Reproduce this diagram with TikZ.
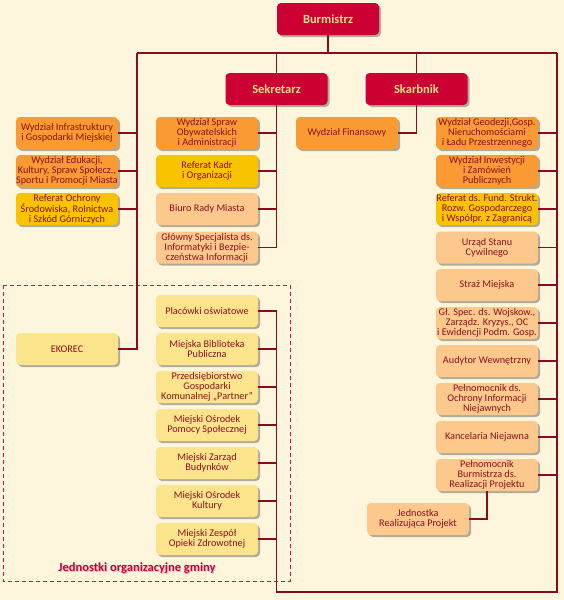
\documentclass[tikz,border=0pt]{standalone}
\usepackage{fontspec}
\setmainfont{Carlito}
\usetikzlibrary{shadows}
\definecolor{bg}{HTML}{FEF6DC}
\definecolor{crim}{HTML}{CC0033}
\definecolor{ttl}{HTML}{FFE08A}
\definecolor{org}{HTML}{F99A32}
\definecolor{yel}{HTML}{F9C300}
\definecolor{pch}{HTML}{FCC88C}
\definecolor{lyl}{HTML}{FCE48C}
\definecolor{txt}{HTML}{8A1020}
\definecolor{ln}{HTML}{8B0A1E}
\definecolor{dsh}{HTML}{D8103C}
\begin{document}
\begin{tikzpicture}[x=1pt,y=-1pt,
  shad/.style={drop shadow={shadow xshift=2pt, shadow yshift=-2pt, opacity=0.3, fill=black}},
  box/.style={shad, rounded corners=4pt, minimum width=102pt, minimum height=32pt, inner sep=0pt, align=center, text=txt, font=\fontsize{10.2}{10}\selectfont},
  obox/.style={box, fill=org},
  ybox/.style={box, fill=yel},
  pbox/.style={box, fill=pch},
  lbox/.style={box, fill=lyl},
  tbox/.style={shad, rounded corners=4pt, minimum width=102pt, minimum height=32pt, inner sep=0pt, fill=crim, text=ttl, font=\fontsize{12.5}{13}\selectfont\bfseries},
  conn/.style={draw=ln, line width=1.2pt},
  frame/.style={draw=dsh, line width=1pt, dash pattern=on 4pt off 3pt},
  lblstyle/.style={font=\fontsize{12.5}{13}\selectfont\bfseries}
]
\fill[bg] (0,0) rectangle (564,600);
\useasboundingbox (0,0) rectangle (564,600);

% dashed frame
\draw[frame] (3,285) rectangle (290,581);
\node[lblstyle, text=black!22] (lblsh) at (138,569) {Jednostki organizacyjne gminy};
\node[lblstyle, text=crim] (lbl) at (137,568) {Jednostki organizacyjne gminy};

% titles
\node[tbox] (burm) at (328,19) {Burmistrz};
\node[tbox] (sek) at (276.5,89) {Sekretarz};
\node[tbox] (skarb) at (416.5,89) {Skarbnik};

% left column
\node[obox] (wi) at (67,133) {Wydział Infrastruktury\\i Gospodarki Miejskiej};
\node[obox] (we) at (67,171) {Wydział Edukacji,\\Kultury, Spraw Społecz.,\\Sportu i Promocji Miasta};
\node[ybox] (ro) at (67,209) {Referat Ochrony\\Środowiska, Rolnictwa\\i Szkód Górniczych};
\node[lbox] (ek) at (67,349) {EKOREC};

% Sekretarz column
\node[obox] (wso) at (207,133) {Wydział Spraw\\Obywatelskich\\i Administracji};
\node[ybox] (rk) at (207,171) {Referat Kadr\\i Organizacji};
\node[pbox] (brm) at (207,209) {Biuro Rady Miasta};
\node[pbox] (gs) at (207,247.5) {Główny Specjalista ds.\\Informatyki i Bezpie-\\czeństwa Informacji};

% jednostki
\node[lbox] (j1) at (207,311) {Placówki oświatowe};
\node[lbox] (j2) at (207,349) {Miejska Biblioteka\\Publiczna};
\node[lbox] (j3) at (207,387) {Przedsiębiorstwo\\Gospodarki\\Komunalnej „Partner”};
\node[lbox] (j4) at (207,425) {Miejski Ośrodek\\Pomocy Społecznej};
\node[lbox] (j5) at (207,463) {Miejski Zarząd\\Budynków};
\node[lbox] (j6) at (207,501) {Miejski Ośrodek\\Kultury};
\node[lbox] (j7) at (207,539) {Miejski Zespół\\Opieki Zdrowotnej};

% Skarbnik
\node[obox] (wf) at (347,133) {Wydział Finansowy};

% right column
\node[obox] (r1) at (487,133) {Wydział Geodezji,Gosp.\\Nieruchomościami\\i Ładu Przestrzennego};
\node[obox] (r2) at (487,171) {Wydział Inwestycji\\i Zamówień\\Publicznych};
\node[ybox] (r3) at (487,209) {Referat ds. Fund. Strukt.\\Rozw. Gospodarczego\\i Współpr. z Zagranicą};
\node[pbox] (r4) at (487,247.5) {Urząd Stanu\\Cywilnego};
\node[pbox] (r5) at (487,285) {Straż Miejska};
\node[pbox] (r6) at (487,323) {Gł. Spec. ds. Wojskow.,\\Zarządz. Kryzys., OC\\i Ewidencji Podm. Gosp.};
\node[pbox] (r7) at (487,361) {Audytor Wewnętrzny};
\node[pbox] (r8) at (487,399) {Pełnomocnik ds.\\Ochrony Informacji\\Niejawnych};
\node[pbox] (r9) at (487,437) {Kancelaria Niejawna};
\node[pbox] (r10) at (487,475) {Pełnomocnik\\Burmistrza ds.\\Realizacji Projektu};
\node[pbox] (jrp) at (418,519) {Jednostka\\Realizująca Projekt};

% spine coordinates
\coordinate (hl) at (137,53);
\coordinate (hr) at (557,53);
\coordinate (bl) at (276.5,592);

% connectors
\draw[conn] (burm.south) -- (burm.south |- hl);
\draw[conn] (hl) -- (hr);
\draw[conn] (ek.east) -| (hl);
\foreach \n in {wi,we,ro} \draw[conn] (\n.east) -- (\n.east -| hl);
\draw[conn] (sek.north) -- (sek.north |- hl);
\draw[conn] (skarb.north) -- (skarb.north |- hl);
\draw[conn] (sek.south) |- (gs.east);
\foreach \n in {wso,rk,brm} \draw[conn] (\n.east) -- (\n.east -| sek.south);
\draw[conn] (skarb.south) |- (wf.east);
\draw[conn] (hr) |- (bl) -- (bl |- j1.east) -- (j1.east);
\foreach \n in {j2,j3,j4,j5,j6,j7} \draw[conn] (\n.east) -- (\n.east -| bl);
\foreach \n in {r1,r2,r3,r4,r5,r6,r7,r8,r9,r10} \draw[conn] (\n.east) -- (\n.east -| hr);
\draw[conn] (jrp.east) -| (r10.south);
\end{tikzpicture}
\end{document}
